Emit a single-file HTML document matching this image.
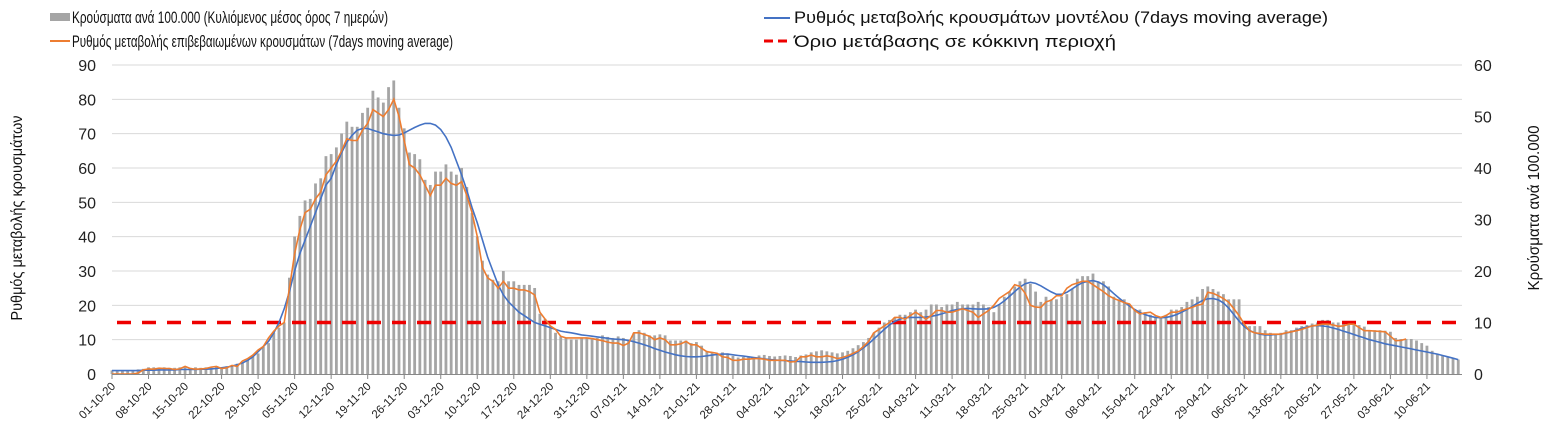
<!DOCTYPE html>
<html><head><meta charset="utf-8"><style>
body{margin:0;background:#fff}
svg{display:block;font-family:"Liberation Sans","DejaVu Sans",sans-serif}
</style></head><body>
<svg id="chart" width="1556" height="448" viewBox="0 0 1556 448" xmlns="http://www.w3.org/2000/svg">
<g>
 <g><rect x="50" y="13" width="20" height="8" fill="#a5a5a5"/><text x="72" y="23" font-size="17" textLength="316" lengthAdjust="spacingAndGlyphs" fill="#111">Κρούσματα ανά 100.000 (Κυλιόμενος μέσος όρος 7 ημερών)</text></g>
 <g><line x1="50" y1="41" x2="70" y2="41" stroke="#ed7d31" stroke-width="2"/><text x="72" y="47" font-size="17" textLength="381" lengthAdjust="spacingAndGlyphs" fill="#111">Ρυθμός μεταβολής επιβεβαιωμένων κρουσμάτων (7days moving average)</text></g>
 <g><line x1="764" y1="18" x2="790" y2="18" stroke="#4472c4" stroke-width="2"/><text x="794" y="23" font-size="17" textLength="534" lengthAdjust="spacingAndGlyphs" fill="#111">Ρυθμός μεταβολής κρουσμάτων μοντέλου (7days moving average)</text></g>
 <g><line x1="764" y1="41" x2="790" y2="41" stroke="#e00" stroke-width="3" stroke-dasharray="9,5"/><text x="794" y="47" font-size="17" textLength="322" lengthAdjust="spacingAndGlyphs" fill="#111">Όριο μετάβασης σε κόκκινη περιοχή</text></g>
</g>
<text transform="translate(22,218) rotate(-90)" text-anchor="middle" font-size="16" textLength="205" lengthAdjust="spacingAndGlyphs" fill="#111">Ρυθμός μεταβολής κρουσμάτων</text>
<text transform="translate(1539,208) rotate(-90)" text-anchor="middle" font-size="16" textLength="165" lengthAdjust="spacingAndGlyphs" fill="#111">Κρούσματα ανά 100.000</text>
<g id="grid"></g><g id="bars"></g><g id="lines"></g><g id="axes"></g>
</svg>
<script>
const leftTicks=[0,10,20,30,40,50,60,70,80,90];
const rightTicks=[0,10,20,30,40,50,60];
const xTickLabels=["01-10-20","08-10-20","15-10-20","22-10-20","29-10-20","05-11-20","12-11-20","19-11-20","26-11-20","03-12-20","10-12-20","17-12-20","24-12-20","31-12-20","07-01-21","14-01-21","21-01-21","28-01-21","04-02-21","11-02-21","18-02-21","25-02-21","04-03-21","11-03-21","18-03-21","25-03-21","01-04-21","08-04-21","15-04-21","22-04-21","29-04-21","06-05-21","13-05-21","20-05-21","27-05-21","03-06-21","10-06-21"];
const casesPer100k=[0.7,0.7,0.7,0.7,0.7,0.9,1.0, 1.3,1.3,1.2,1.3,1.2,1.2,1.3, 1.3,1.2,1.3,1.2,1.3,1.3,1.5, 1.3,1.5,1.7,2,2.3,2.7,3.3,
4,5.3,6,8,9,10,18.7, 26.7,30.7,33.7,34,37,38,42.3, 42.7,44,46.7,49,48,48,50.7, 51.7,55,53.7,52.7,55.7,57,51.7,
47.7,43,42.7,41.7,37.7,36.7,39.3, 39.3,40.7,39.3,38.7,40,36.3,31.3, 26.7,22,19.3,18.3,18,20,18, 18,17.3,17.3,17.3,16.7,11.7,10.7,
9.3,8,7.3,7,6.7,6.7,7, 7,7,7,7.5,7.2,7,7.3, 7,6.5,8,8.5,8,7.5,7.5, 7.7,7.5,6.5,6.5,6.5,6.5,6, 6.2,5.5,4.5,4.2,4.0,4.2,4.0,
3.5,3.2,3.3,3.3,3.3,3.6,3.7, 3.5,3.4,3.5,3.6,3.5,3.3,3.6, 3.8,4.2,4.4,4.6,4.4,4.2,4.0, 4.2,4.5,5.0,5.6,6.2,7.0,8.0,
9,10,10.5,11,11.5,11.5,12, 12.5,12,12.5,13.5,13.5,13,13.5, 13.5,14,13.5,13.5,13.5,14,13.5, 13,12,13.5,15,16,17,18,
18.5,17.5,16,14,15,14.5,14.5, 15,15.5,16.5,18.5,19,19,19.5, 18,18,17,15,14.5,14.5,13.5, 12.5,12.5,12,11.5,11,11,11.5,
12.5,12.5,13,14,14.5,15,16.5, 17,16.5,16,15.5,14.5,14.5,14.5, 9.5,9.3,9.3,9.3,8.5,8.0,7.8, 8.0,8.5,8.5,9.0,9.3,9.5,9.8,
10,10.5,10.5,10,10,9.8,9.5, 9.5,9.5,9.2,8.5,8.5,8.5,8.4, 8.2,7.0,6.8,6.8,6.8,6.5,6.0, 5.5,4.5,3.8,3.5,3.3,3.0,2.8];
const modelRate=[1,1,1,1,1,1,1.1, 1.1,1.1,1.2,1.2,1.2,1.2,1.3, 1.3,1.3,1.3,1.4,1.4,1.5,1.6, 1.8,2.0,2.3,2.7,3.2,4,5,
6.5,8,9.5,12,15,19,24, 30,35,39,43,47,51,55, 57,61,64.5,67.5,69.5,71,71.5, 71.5,71,70.5,70,69.7,69.5,69.6,
70.2,71,71.8,72.5,73,73,72.5, 71.2,69,66,62,58,53.5,48.5, 44,39,34,30,26,23,21, 19.5,18,17,16,15,14.5,14,
13.5,13,12.5,12.2,12,11.7,11.4, 11.2,11,10.8,10.6,10.4,10.2,10.1, 10,9.8,9.4,9,8.5,8,7.4, 6.9,6.4,6,5.6,5.3,5.1,5,
5,5.1,5.3,5.5,5.7,5.8,5.8, 5.6,5.4,5.2,5,4.8,4.6,4.4, 4.2,4.1,4,3.9,3.8,3.7,3.6, 3.5,3.4,3.4,3.4,3.5,3.6,3.9,
4.3,4.9,5.6,6.5,7.6,8.8,10.2, 11.6,13,14.3,15.3,16,16.4,16.5, 16.5,16.5,16.6,16.8,17.1,17.5,18, 18.5,18.8,19,19.1,19,18.9,18.9,
19,19.4,20.2,21.3,22.6,24,25.3, 26.3,26.7,26.4,25.7,24.8,23.9,23.2, 23.2,23.8,24.8,25.8,26.6,27,27.2, 26.8,26,24.8,23.4,22.1,20.9,19.8,
18.8,17.9,17.3,16.8,16.5,16.4,16.5, 16.8,17.3,18,18.8,19.7,20.6,21.4, 21.9,22,21.6,20.7,19.2,17.3,15.4, 13.8,12.7,12,11.6,11.4,11.4,11.5,
11.6,11.9,12.3,12.8,13.3,13.7,14, 14.1,14,13.8,13.4,13,12.5,12, 11.5,11,10.5,10,9.6,9.2,8.8, 8.5,8.2,7.9,7.6,7.3,7,6.7, 6.4,6.1,5.8,5.4,5,4.6,4.2];
const confirmedRate=[0,0,0,0,0,0.3,1.2, 1.5,1.4,1.7,1.6,1.6,1.3,1.5, 2.2,1.6,1.4,1.5,1.6,2.0,2.2, 1.6,1.8,2.5,2.2,3.8,4.5,5.5,
7,8,10.5,12.5,14,15, 25,35,42,47,48,51,53,58,60,62,65,68.5,68,68,71,73,77,76,75,77,80,75,68,61,60,58,55,52,55,55,57,55.5,55,56,52,47,40,31,28,27,25,27,25,25,24.5,24.5,24,23,18,16,14,13,
11,10.5,10.5,10.5,10.5, 10.5,10.3,10,9.7,9.3,9,9, 8.3,9,12,12,11.5,11,10, 10.5,10,8.5,8.5,8.8,9.5,8.5, 8.5,7.5,6.5,6.3,6,5,4.8,
4,4,4.3,4.3,4.5,4.5,4.3, 4,4,4,4,3.5,3.6,5, 5,5.5,5,5,5.3,5,4.5, 4.8,5.3,6,6.7,8,9.5,12, 13,14,15,16.5,16.5,16,17,
18,17,16,17,18.5,18.5,18, 18,18.5,19,18.5,18,16.5,17.5, 18.5,20,22,23,24,26,25.5, 23.5,20,19.5,19.4,21,21.5,22.8,
22.8,25,26,26.5,27,27,26, 25,24,22.8,22,21.4,20.8,20.4, 18.5,17.5,17.8,18,17,16.5,17, 18,18,18.5,19,19.4,20,20.4,
23.8,23.5,22.8,22,20.9,19,17, 14.5,12.6,12,11.8,11.6,11.6,11.6, 11.6,12,12.3,12.6,13,13.5,14, 14.2,14.5,14.5,14.3,13.9,14,14.5,
14.5,13.5,12.6,12.6,12.5,12.4,12.3, 11,9.7,9.8,10.2];
const redThreshold=15;

const NS="http://www.w3.org/2000/svg";
const X0=112,DX=5.218,Y0=374,PH=309;
const xs=d=>X0+d*DX;
const yL=v=>Y0-v/90*PH;
const yR=v=>Y0-v/60*PH;
function mk(tag,at,parent){const e=document.createElementNS(NS,tag);for(const k in at)e.setAttribute(k,at[k]);parent.appendChild(e);return e;}
const grid=document.getElementById('grid'),bars=document.getElementById('bars'),lines=document.getElementById('lines'),axes=document.getElementById('axes');
leftTicks.forEach(t=>{
 if(t>0){const g=mk('line',{x1:X0,x2:1462,y1:yL(t),y2:yL(t),stroke:'#d9d9d9','stroke-width':1},grid);
 
 }
 const tx=mk('text',{x:96,y:yL(t)+6,'text-anchor':'end','font-size':16,fill:'#222'},axes);tx.textContent=t;
 
 
});
rightTicks.forEach(t=>{
 const tx=mk('text',{x:1474,y:yR(t)+6,'font-size':16,fill:'#222'},axes);tx.textContent=t;
 
 
});
casesPer100k.forEach((v,i)=>{
 const r=mk('rect',{x:xs(i)-1.4,y:yR(v),width:2.8,height:Y0-yR(v),fill:'#a5a5a5'},bars);
 
 
});
const base=mk('line',{x1:X0,x2:1462,y1:Y0+0.5,y2:Y0+0.5,stroke:'#888','stroke-width':1},axes);


xTickLabels.forEach((l,i)=>{
 const x=xs(i*7);
 mk('line',{x1:x,x2:x,y1:Y0,y2:Y0+5,stroke:'#888'},axes);
 const tx=mk('text',{transform:`translate(${x+4},${Y0+13}) rotate(-45)`,'text-anchor':'end','font-size':11.5,fill:'#222'},axes);tx.textContent=l;
 
 
});
const red=mk('line',{x1:117,x2:1462,y1:yL(redThreshold),y2:yL(redThreshold),stroke:'#e00','stroke-width':3.5,'stroke-dasharray':'14,11'},lines);


const pts=(arr)=>arr.map((v,i)=>xs(i).toFixed(1)+','+yL(v).toFixed(1)).join(' ');
const model=mk('polyline',{points:pts(modelRate),fill:'none',stroke:'#4472c4','stroke-width':1.6},lines);


const conf=mk('polyline',{points:pts(confirmedRate),fill:'none',stroke:'#ed7d31','stroke-width':1.6},lines);


</script>
</body></html>
